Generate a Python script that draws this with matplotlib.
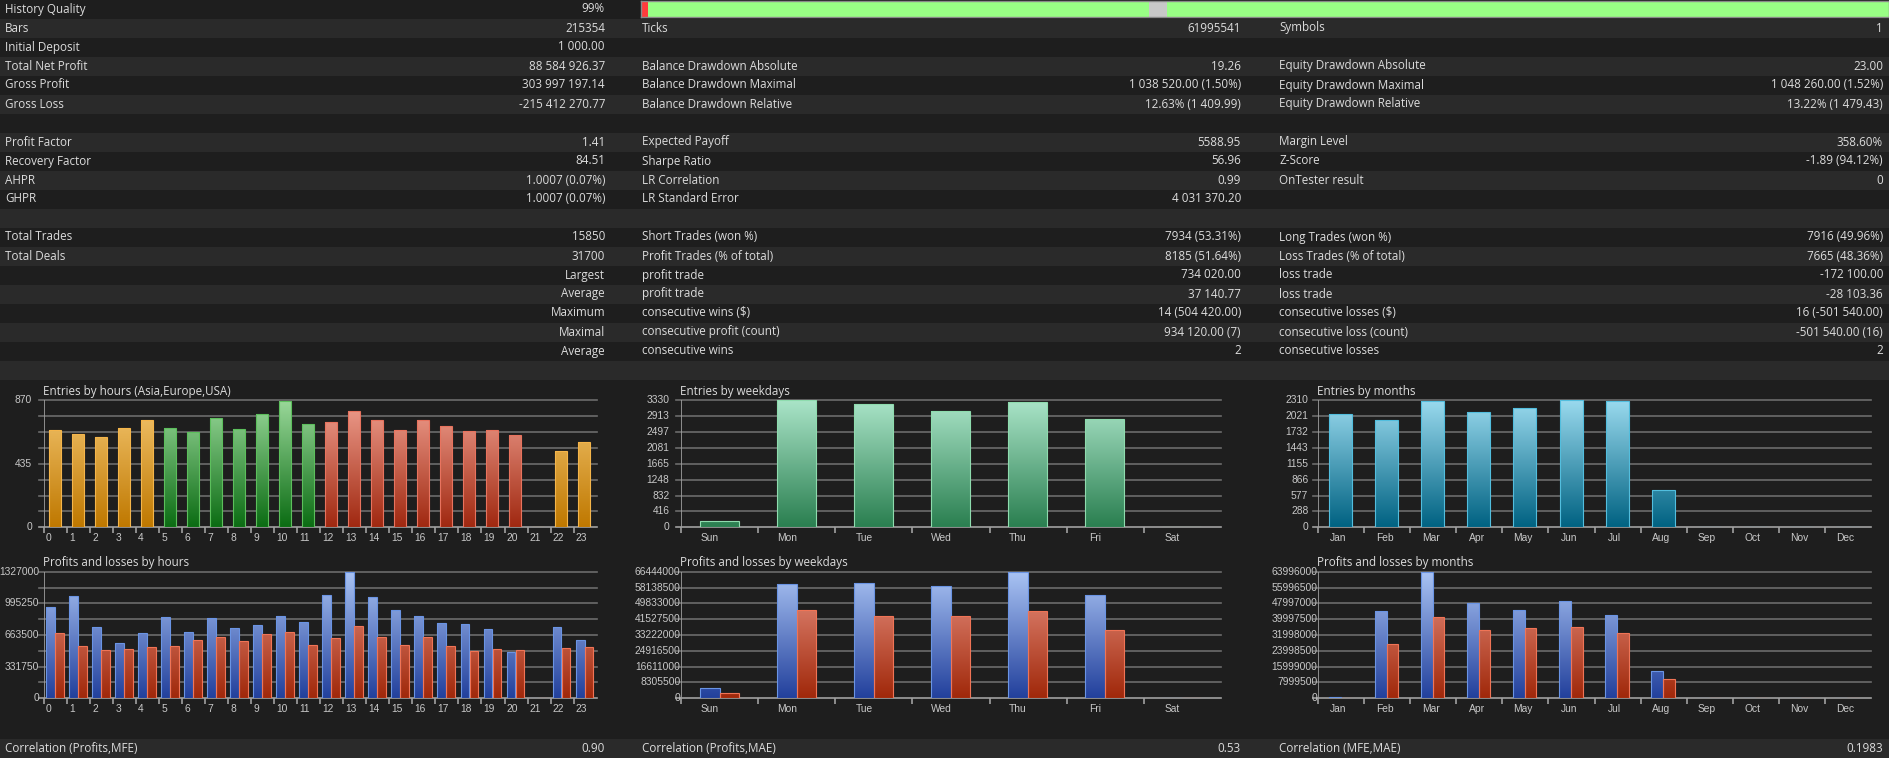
import numpy as np
import matplotlib
matplotlib.use('Agg')
import matplotlib.pyplot as plt
from matplotlib.patches import Rectangle, PathPatch
from matplotlib.path import Path
from matplotlib.colors import LinearSegmentedColormap
from matplotlib.transforms import Bbox, TransformedBbox

W, H = 1890, 758

# ---- report table ----
col1_labels = ["History Quality", "Bars", "Initial Deposit", "Total Net Profit", "Gross Profit", "Gross Loss", "",
               "Profit Factor", "Recovery Factor", "AHPR", "GHPR", "", "Total Trades", "Total Deals",
               "", "", "", "", "", ""]
col1_values = ["99%", "215354", "1 000.00", "88 584 926.37", "303 997 197.14", "-215 412 270.77", "",
               "1.41", "84.51", "1.0007 (0.07%)", "1.0007 (0.07%)", "", "15850", "31700",
               "Largest", "Average", "Maximum", "Maximal", "Average", ""]
col2_labels = ["", "Ticks", "", "Balance Drawdown Absolute", "Balance Drawdown Maximal", "Balance Drawdown Relative", "",
               "Expected Payoff", "Sharpe Ratio", "LR Correlation", "LR Standard Error", "",
               "Short Trades (won %)", "Profit Trades (% of total)", "profit trade", "profit trade",
               "consecutive wins ($)", "consecutive profit (count)", "consecutive wins", ""]
col2_values = ["", "61995541", "", "19.26", "1 038 520.00 (1.50%)", "12.63% (1 409.99)", "",
               "5588.95", "56.96", "0.99", "4 031 370.20", "",
               "7934 (53.31%)", "8185 (51.64%)", "734 020.00", "37 140.77",
               "14 (504 420.00)", "934 120.00 (7)", "2", ""]
col3_labels = ["", "Symbols", "", "Equity Drawdown Absolute", "Equity Drawdown Maximal", "Equity Drawdown Relative", "",
               "Margin Level", "Z-Score", "OnTester result", "", "",
               "Long Trades (won %)", "Loss Trades (% of total)", "loss trade", "loss trade",
               "consecutive losses ($)", "consecutive loss (count)", "consecutive losses", ""]
col3_values = ["", "1", "", "23.00", "1 048 260.00 (1.52%)", "13.22% (1 479.43)", "",
               "358.60%", "-1.89 (94.12%)", "0", "", "",
               "7916 (49.96%)", "7665 (48.36%)", "-172 100.00", "-28 103.36",
               "16 (-501 540.00)", "-501 540.00 (16)", "2", ""]
corr_labels = ["Correlation (Profits,MFE)", "Correlation (Profits,MAE)", "Correlation (MFE,MAE)"]
corr_values = ["0.90", "0.53", "0.1983"]

# history quality strip (percent of test period)
quality_widths = [0.6, 40.1, 1.45, 57.85]
quality_colors = ['#ff3c3c', '#99ff85', '#c8c8c8', '#99ff85']

# ---- charts ----
hours = [str(h) for h in range(24)]
hour_session = ['Asia'] * 5 + ['Europe'] * 7 + ['USA'] * 9 + ['Asia'] * 3
hour_entries = [665, 638, 619, 679, 733, 683, 651, 747, 676, 774, 863, 706,
                724, 795, 733, 665, 738, 692, 660, 665, 635, 0, 526, 583]
hour_profits = [953000, 1068000, 751000, 583000, 681000, 849000, 695000, 845000, 737000, 765000, 862000, 796000,
                1083000, 1327000, 1058000, 922000, 866000, 786000, 775000, 723000, 489000, 0, 751000, 615000]
hour_losses = [681000, 548000, 506000, 520000, 538000, 552000, 615000, 639000, 597000, 677000, 698000, 555000,
               629000, 754000, 639000, 559000, 639000, 545000, 496000, 513000, 503000, 0, 524000, 538000]

weekdays = ["Sun", "Mon", "Tue", "Wed", "Thu", "Fri", "Sat"]
weekday_entries = [157, 3330, 3234, 3050, 3278, 2832, 0]
weekday_profits = [5250000, 59800000, 60300000, 58750000, 66444000, 54000000, 0]
weekday_losses = [2620000, 46300000, 43200000, 43400000, 45600000, 36000000, 0]

months = ["Jan", "Feb", "Mar", "Apr", "May", "Jun", "Jul", "Aug", "Sep", "Oct", "Nov", "Dec"]
month_entries = [2055, 1952, 2292, 2104, 2170, 2310, 2292, 679, 0, 0, 0, 0]
month_profits = [500000, 43950000, 63996000, 48000000, 44460000, 49000000, 42100000, 13640000, 0, 0, 0, 0]
month_losses = [300000, 27300000, 40900000, 34400000, 35500000, 36200000, 33000000, 9600000, 0, 0, 0, 0]

hour_entries_ticks = [0, 435, 870]
hour_pl_ticks = [0, 331750, 663500, 995250, 1327000]
weekday_entries_ticks = [0, 416, 832, 1248, 1665, 2081, 2497, 2913, 3330]
weekday_pl_ticks = [0, 8305500, 16611000, 24916500, 33222000, 41527500, 49833000, 58138500, 66444000]
month_entries_ticks = [0, 288, 577, 866, 1155, 1443, 1732, 2021, 2310]
month_pl_ticks = [0, 7999500, 15999000, 23998500, 31998000, 39997500, 47997000, 55996500, 63996000]

DARK, LIGHT = '#1e1e1e', '#2a2a2a'
TXT = '#dcdcdc'
TICK = '#c8c8c8'
GRID = '#6c6c6c'
AXIS = '#a0a0a0'
FS = 8.4
TICK_FONT = ['Liberation Sans Narrow', 'Liberation Sans', 'DejaVu Sans']

plt.rcParams['font.family'] = ['Open Sans', 'DejaVu Sans']

fig = plt.figure(figsize=(W / 100, H / 100), dpi=100)
fig.patch.set_facecolor(DARK)
bg = fig.add_axes([0, 0, 1, 1])
bg.set_xlim(0, W)
bg.set_ylim(H, 0)
bg.axis('off')

ROW = 19
for k in range(20):
    bg.add_patch(Rectangle((0, k * ROW), W, ROW, color=DARK if k % 2 == 0 else LIGHT, lw=0))
bg.add_patch(Rectangle((0, 739), W, H - 739, color=LIGHT, lw=0))

cols = [(5, 605, col1_labels, col1_values), (642, 1241, col2_labels, col2_values),
        (1279, 1883, col3_labels, col3_values)]
for xl, xr, labs, vals in cols:
    for k, (lab, val) in enumerate(zip(labs, vals)):
        y = k * ROW + 9
        if lab:
            bg.text(xl, y, lab, ha='left', va='center', fontsize=FS, color=TXT)
        if val:
            bg.text(xr, y, val, ha='right', va='center', fontsize=FS, color=TXT)
for (xl, xr, _, _), lab, val in zip(cols, corr_labels, corr_values):
    bg.text(xl, 748, lab, ha='left', va='center', fontsize=FS, color=TXT)
    bg.text(xr, 748, val, ha='right', va='center', fontsize=FS, color=TXT)


def px_axes(x0, y0, x1, y1):
    ax = fig.add_axes([x0 / W, 1 - y1 / H, (x1 - x0) / W, (y1 - y0) / H])
    ax.set_facecolor('none')
    return ax


# history quality strip
qa = px_axes(641, 1, 1889, 17)
qa.barh(0.5, quality_widths, left=np.cumsum([0] + quality_widths[:-1]), height=1, color=quality_colors, lw=0)
qa.set_xlim(0, 100)
qa.set_ylim(0, 1)
qa.set_xticks([])
qa.set_yticks([])
for s in qa.spines.values():
    s.set_color('#8a8a8a')
    s.set_linewidth(1)


def grad_bars(ax, lefts, heights, width, n, ymax, c_bot, c_top, edge):
    rects = ax.bar(lefts, heights, width=width, align='edge', facecolor='none',
                   edgecolor=edge, lw=0.8, zorder=3)
    paths = [r.get_path().transformed(r.get_patch_transform()) for r in rects if r.get_height() > 0]
    if not paths:
        return
    clip = PathPatch(Path.make_compound_path(*paths), transform=ax.transData,
                     facecolor='none', edgecolor='none')
    ax.add_patch(clip)
    cmap = LinearSegmentedColormap.from_list('g', [c_bot, c_top])
    img = ax.imshow(np.linspace(0, 1, 256).reshape(-1, 1), extent=[0, n, 0, ymax], origin='lower',
                    aspect='auto', cmap=cmap, zorder=2, interpolation='bilinear')
    img.set_clip_path(clip)


def frame(ax, panel, n, ymax, ticks, cats, title, lab_off, lab_ha, ylab_gap):
    x0, x1 = ax.get_position().x0 * W, ax.get_position().x1 * W
    ext = n * 5 / (x1 - x0)
    for k in range(9):
        v = ymax * k / 8
        ax.plot([-ext, n], [v, v], color=AXIS if k == 0 else GRID, lw=1.2, clip_on=False, zorder=1)
    ax.plot([0, 0], [0, ymax], color=AXIS, lw=1.2, zorder=1)
    ax.vlines(range(n), 0, -0.047, transform=ax.get_xaxis_transform(), color=AXIS, lw=1.2, clip_on=False)
    ax.set_xlim(0, n)
    ax.set_ylim(0, ymax)
    ax.axis('off')
    clipbox = TransformedBbox(Bbox([[panel[0] / W, 0], [panel[1] / W, 1]]), fig.transFigure)
    for v in ticks:
        t = ax.annotate(str(v), xy=(0, v), xycoords=('axes fraction', 'data'), xytext=(-ylab_gap, 0),
                        textcoords='offset pixels', ha='right', va='center', fontsize=7.4,
                        color=TICK, family=TICK_FONT, annotation_clip=False)
        t.set_clip_box(clipbox)
        t.set_clip_on(True)
    for i, c in enumerate(cats):
        ax.annotate(c, xy=(i + lab_off, 0), xycoords='data', xytext=(0, -11), textcoords='offset pixels',
                    ha=lab_ha, va='center', fontsize=7.4, color=TICK, family=TICK_FONT,
                    annotation_clip=False)
    ax.annotate(title, xy=(0, 1), xycoords='axes fraction', xytext=(-1, 9), textcoords='offset pixels',
                ha='left', va='center', fontsize=FS, color=TXT, annotation_clip=False)


BLUE = ('#22409c', '#aac4f4', '#6a94e4')
RED = ('#a0280a', '#eb9585', '#f07456')
SESSION = {'Asia': ('#bf7800', '#f4c670', '#f5b54a'),
           'Europe': ('#0b6c13', '#9ad89a', '#5cbf5c'),
           'USA': ('#a02810', '#f0a090', '#e8735e')}

ENT_Y = (400.3, 527.3)
PL_Y = (571.7, 698.3)

# hours
x0, x1 = 44, 596.6
ax = px_axes(x0, ENT_Y[0], x1, ENT_Y[1])
for s, (cb, ct, ce) in SESSION.items():
    idx = [i for i in range(24) if hour_session[i] == s]
    grad_bars(ax, [i + 0.21 for i in idx], [hour_entries[i] for i in idx], 0.52, 24, 870, cb, ct, ce)
frame(ax, (0, 630), 24, 870, hour_entries_ticks, hours, "Entries by hours (Asia,Europe,USA)", 0.09, 'left', 12)

ax = px_axes(x0, PL_Y[0], x1, PL_Y[1])
grad_bars(ax, [i + 0.09 for i in range(24)], hour_profits, 0.385, 24, 1327000, *BLUE)
grad_bars(ax, [i + 0.48 for i in range(24)], hour_losses, 0.385, 24, 1327000, *RED)
frame(ax, (0, 630), 24, 1327000, hour_pl_ticks, hours, "Profits and losses by hours", 0.09, 'left', 5)

# weekdays
x0, x1 = 681.4, 1220.6
ax = px_axes(x0, ENT_Y[0], x1, ENT_Y[1])
grad_bars(ax, [i + 0.245 for i in range(7)], weekday_entries, 0.5, 7, 3330, '#2a7f50', '#aae4c8', '#8edcae')
frame(ax, (630, 1260), 7, 3330, weekday_entries_ticks, weekdays, "Entries by weekdays", 0.37, 'center', 12)

ax = px_axes(x0, PL_Y[0], x1, PL_Y[1])
grad_bars(ax, [i + 0.245 for i in range(7)], weekday_profits, 0.25, 7, 66444000, *BLUE)
grad_bars(ax, [i + 0.5 for i in range(7)], weekday_losses, 0.25, 7, 66444000, *RED)
frame(ax, (630, 1260), 7, 66444000, weekday_pl_ticks, weekdays, "Profits and losses by weekdays", 0.37, 'center', 1)

# months
x0, x1 = 1318.3, 1870.7
ax = px_axes(x0, ENT_Y[0], x1, ENT_Y[1])
grad_bars(ax, [i + 0.24 for i in range(12)], month_entries, 0.5, 12, 2310, '#006282', '#9adaee', '#52bede')
frame(ax, (1260, 1890), 12, 2310, month_entries_ticks, months, "Entries by months", 0.44, 'center', 10)

ax = px_axes(x0, PL_Y[0], x1, PL_Y[1])
grad_bars(ax, [i + 0.235 for i in range(12)], month_profits, 0.25, 12, 63996000, *BLUE)
grad_bars(ax, [i + 0.49 for i in range(12)], month_losses, 0.25, 12, 63996000, *RED)
frame(ax, (1260, 1890), 12, 63996000, month_pl_ticks, months, "Profits and losses by months", 0.44, 'center', 1)

fig.savefig('out.png', dpi=100, facecolor=fig.get_facecolor())
